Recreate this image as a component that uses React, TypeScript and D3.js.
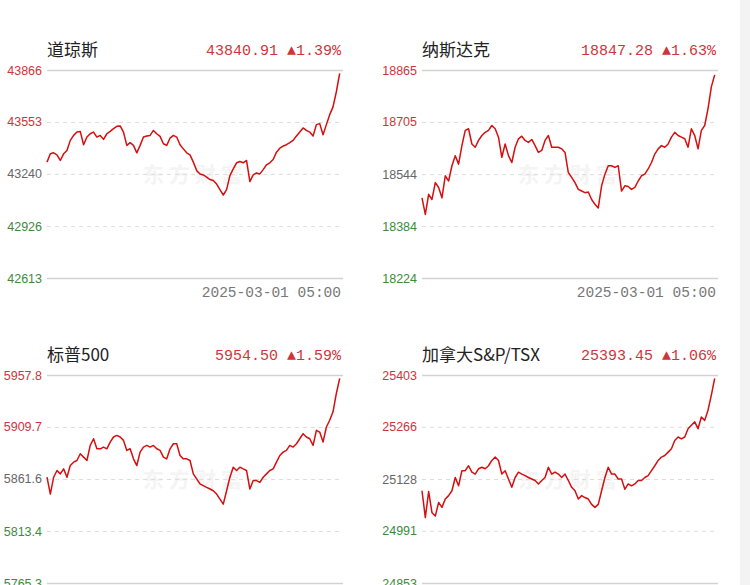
import React, { useEffect, useRef } from 'react';
import * as d3 from 'd3';

// intraday closes, one sample per slot
const djiValues = [
  43311, 43361, 43367, 43355, 43321, 43361, 43381, 43442, 43472, 43492,
  43496, 43416, 43462, 43482, 43492, 43462, 43472, 43448, 43482, 43496,
  43513, 43527, 43529, 43492, 43412, 43428, 43412, 43367, 43412, 43462,
  43468, 43472, 43502, 43482, 43466, 43422, 43412, 43456, 43472, 43462,
  43416, 43391, 43367, 43355, 43311, 43260, 43240, 43234, 43220, 43206,
  43200, 43179, 43145, 43113, 43145, 43230, 43270, 43307, 43315, 43307,
  43321, 43194, 43234, 43246, 43240, 43266, 43295, 43307, 43327, 43371,
  43395, 43408, 43416, 43428, 43442, 43468, 43492, 43517, 43502, 43492,
  43468, 43537, 43543, 43476, 43537, 43597, 43644, 43735, 43846,
];
const ndxValues = [
  18471, 18420, 18482, 18466, 18518, 18503, 18471, 18539, 18523, 18570,
  18601, 18575, 18632, 18679, 18684, 18637, 18627, 18648, 18663, 18673,
  18679, 18694, 18684, 18658, 18596, 18637, 18601, 18580, 18627, 18653,
  18661, 18648, 18642, 18651, 18632, 18611, 18617, 18648, 18663, 18627,
  18627, 18627, 18622, 18611, 18549, 18534, 18518, 18497, 18492, 18487,
  18489, 18466, 18451, 18440, 18508, 18544, 18570, 18570, 18565, 18570,
  18492, 18508, 18506, 18497, 18503, 18523, 18539, 18544, 18560, 18580,
  18606, 18622, 18632, 18627, 18637, 18658, 18673, 18663, 18658, 18653,
  18627, 18684, 18663, 18622, 18679, 18694, 18746, 18813, 18850,
];
const spxValues = [
  5863.2, 5847.6, 5863.2, 5869.4, 5866.3, 5870.9, 5863.2, 5874.0, 5877.1, 5878.7,
  5884.9, 5881.8, 5878.7, 5892.6, 5898.8, 5889.5, 5889.5, 5891.1, 5889.5, 5895.7,
  5900.4, 5901.9, 5900.4, 5897.3, 5888.0, 5889.5, 5880.2, 5874.0, 5886.4, 5891.1,
  5892.6, 5891.1, 5892.6, 5889.5, 5888.0, 5881.8, 5880.2, 5889.5, 5894.2, 5894.2,
  5883.3, 5880.2, 5880.2, 5878.7, 5866.3, 5861.6, 5857.0, 5855.4, 5853.8, 5852.3,
  5850.7, 5847.6, 5843.0, 5838.3, 5850.7, 5863.2, 5872.5, 5869.4, 5872.5, 5870.9,
  5869.4, 5852.3, 5860.1, 5860.1, 5858.5, 5863.2, 5866.3, 5869.4, 5870.9, 5877.1,
  5883.3, 5886.4, 5888.0, 5892.6, 5891.1, 5894.2, 5898.8, 5903.5, 5900.4, 5898.8,
  5892.6, 5906.6, 5905.0, 5895.7, 5909.7, 5915.9, 5923.7, 5940.7, 5954.7,
];
const tsxValues = [
  25097, 25026, 25095, 25039, 25030, 25066, 25053, 25075, 25084, 25097,
  25132, 25110, 25150, 25150, 25163, 25146, 25141, 25155, 25159, 25155,
  25163, 25177, 25186, 25177, 25141, 25150, 25128, 25106, 25132, 25146,
  25141, 25137, 25132, 25128, 25124, 25115, 25124, 25132, 25159, 25141,
  25146, 25141, 25132, 25141, 25124, 25106, 25097, 25075, 25084, 25079,
  25075, 25061, 25053, 25061, 25097, 25132, 25159, 25141, 25141, 25128,
  25128, 25101, 25115, 25110, 25115, 25124, 25124, 25132, 25137, 25150,
  25163, 25177, 25186, 25190, 25199, 25208, 25230, 25239, 25234, 25239,
  25261, 25270, 25279, 25261, 25292, 25283, 25310, 25350, 25394,
];

const djiTicks = ['43866', '43553', '43240', '42926', '42613'];
const ndxTicks = ['18865', '18705', '18544', '18384', '18224'];
const spxTicks = ['5957.8', '5909.7', '5861.6', '5813.4', '5765.3'];
const tsxTicks = ['25403', '25266', '25128', '24991', '24853'];

const titles = ['道琼斯', '纳斯达克', '标普500', '加拿大S&P/TSX'];
const quotes = ['43840.91', '18847.28', '5954.50', '25393.45'];
const changes = ['1.39%', '1.63%', '1.59%', '1.06%'];
const dateLabel = '2025-03-01 05:00';

const SLOTS = 89;

export default function App() {
  const svgRef = useRef<SVGSVGElement>(null);

  useEffect(() => {
    if (!svgRef.current) return;
    const svg = d3.select(svgRef.current);
    svg.selectAll('*').remove();

    svg.append('rect').attr('width', 750).attr('height', 585).attr('fill', '#fff');
    // grey strip at the right edge
    svg.append('rect').attr('x', 740).attr('width', 10).attr('height', 585).attr('fill', '#f3f3f3');

    const panels = [
      { values: djiValues, ticks: djiTicks, left: 47, top: 70, date: true },
      { values: ndxValues, ticks: ndxTicks, left: 422, top: 70, date: true },
      { values: spxValues, ticks: spxTicks, left: 47, top: 375, date: false },
      { values: tsxValues, ticks: tsxTicks, left: 422, top: 375, date: false },
    ];
    const width = 296;
    const height = 208;
    const tickColors = ['#d0343a', '#d0343a', '#666', '#3d8a3d', '#3d8a3d'];

    panels.forEach((p, k) => {
      const g = svg.append('g');
      const nums = p.ticks.map(Number);
      const y = d3.scaleLinear()
        .domain([d3.min(nums)!, d3.max(nums)!])
        .range([p.top + height, p.top]);
      const x = d3.scaleLinear().domain([0, SLOTS]).range([p.left, p.left + width]);

      // watermark
      g.append('text')
        .attr('x', p.left + 148)
        .attr('y', p.top + 112)
        .attr('text-anchor', 'middle')
        .attr('font-family', 'Noto Sans CJK SC')
        .attr('font-size', 21)
        .attr('font-weight', 'bold')
        .attr('letter-spacing', 5)
        .attr('fill', '#f4f4f4')
        .text('东方财富');

      const axis = g.append('g')
        .attr('transform', `translate(${p.left},0)`)
        .call(d3.axisLeft(y)
          .tickValues(nums)
          .tickSize(-width)
          .tickPadding(5)
          .tickFormat((_, i) => p.ticks[i]));
      axis.select('.domain').remove();
      axis.selectAll<SVGLineElement, number>('.tick line')
        .attr('stroke', (_, i) => (i === 0 || i === 4 ? '#d2d2d2' : '#dcdcdc'))
        .attr('stroke-width', (_, i) => (i === 0 || i === 4 ? 1.5 : 1))
        .attr('stroke-dasharray', (_, i) => (i === 0 || i === 4 ? null : '4,4'));
      axis.selectAll<SVGTextElement, number>('.tick text')
        .attr('font-family', 'Liberation Sans, Arial, sans-serif')
        .attr('font-size', 12.5)
        .attr('fill', (_, i) => tickColors[i]);

      const line = d3.line<number>()
        .x((_, i) => x(i))
        .y(d => y(d));
      g.append('path')
        .datum(p.values)
        .attr('d', line)
        .attr('fill', 'none')
        .attr('stroke', '#d40f0f')
        .attr('stroke-width', 1.5)
        .attr('stroke-linejoin', 'round');

      // header
      g.append('text')
        .attr('x', p.left)
        .attr('y', p.top - 14)
        .attr('font-family', 'Noto Sans CJK SC')
        .attr('font-size', 17)
        .attr('fill', '#222')
        .text(titles[k]);
      g.append('text')
        .attr('x', p.left + 294)
        .attr('y', p.top - 15)
        .attr('text-anchor', 'end')
        .attr('font-family', 'Liberation Mono, DejaVu Sans Mono, monospace')
        .attr('font-size', 15)
        .attr('fill', '#d0343a')
        .text(`${quotes[k]} ▲${changes[k]}`);

      if (p.date) {
        g.append('text')
          .attr('x', p.left + 294)
          .attr('y', p.top + 227)
          .attr('text-anchor', 'end')
          .attr('font-family', 'Liberation Mono, DejaVu Sans Mono, monospace')
          .attr('font-size', 14.5)
          .attr('fill', '#777')
          .text(dateLabel);
      }
    });
  }, []);

  return (
    <div style={{ position: 'absolute', left: 0, top: 0 }}>
      <svg ref={svgRef} width={750} height={585} style={{ display: 'block' }} />
    </div>
  );
}
